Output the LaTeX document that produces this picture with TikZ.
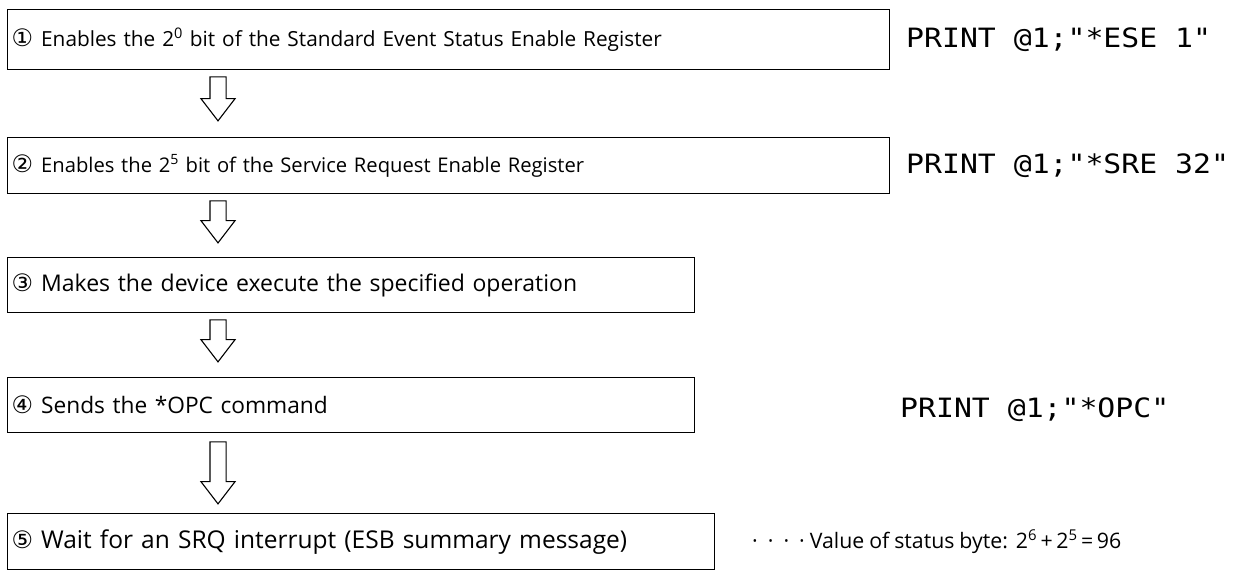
\documentclass[tikz,border=0pt]{standalone}
\usepackage{fontspec}
\setmainfont{Open Sans}
\newfontfamily\circfont{DejaVu Sans}
\newfontfamily\codefont[FakeStretch=1.12]{DejaVu Sans Mono}
\usetikzlibrary{shapes.arrows, positioning, calc}

% circled step number in front of a box text
\newcommand{\stepno}[1]{{\circfont\fontsize{24}{22}\selectfont #1}\hspace{8pt}}
\newcommand{\upsc}[1]{\textsuperscript{#1}}
\newcommand{\boxfont}[1]{\fontsize{#1}{22}\selectfont\spaceskip=0.23em\relax}

\tikzset{
  stepbox/.style={draw, line width=1.3pt, anchor=north west, inner xsep=4pt,
    inner ysep=0pt, align=left, font=\boxfont{#1}},
  stepbox/.default=20,
  downarrow/.style={draw, line width=1.1pt, single arrow, rotate=-90, anchor=tail,
    inner xsep=0pt, inner ysep=7.5pt, single arrow head extend=9pt,
    single arrow tip angle=75, single arrow head indent=0pt},
  codetext/.style={anchor=west, inner sep=0pt, font=\codefont\fontsize{26.6}{30}\selectfont},
  notetext/.style={anchor=west, inner sep=0pt, font=\boxfont{21.3}}
}

\begin{document}
\begin{tikzpicture}[x=1pt, y=-1pt]
  \useasboundingbox (0,0) rectangle (1235,587);
  % Boxes of the five steps:
  \node[stepbox=20.8, text width=874pt, minimum height=60pt] (b1) at (7,9)
    {\stepno{①}Enables the 2\upsc{0} bit of the Standard Event Status Enable Register};
  \node[stepbox=20.2, text width=874pt, minimum height=56pt] (b2) at (7,137)
    {\stepno{②}Enables the 2\upsc{5} bit of the Service Request Enable Register};
  \node[stepbox=23, text width=679pt, minimum height=55pt] (b3) at (7,257)
    {\stepno{③}Makes the device execute the specified operation};
  \node[stepbox=22.7, text width=679pt, minimum height=55pt] (b4) at (7,377)
    {\stepno{④}Sends the *OPC command};
  \node[stepbox=24.5, text width=699pt, minimum height=56pt] (b5) at (7,513)
    {\stepno{⑤}Wait for an SRQ interrupt (ESB summary message)};
  % Hollow arrows between the boxes:
  \coordinate (axis) at (218,0);
  \node[downarrow, minimum height=44pt] (a1) at ($(b1.south -| axis)+(0,6)$) {};
  \node[downarrow, minimum height=42pt] (a2) at ($(b2.south -| axis)+(0,6)$) {};
  \node[downarrow, minimum height=42pt] (a3) at ($(b3.south -| axis)+(0,6)$) {};
  \node[downarrow, minimum height=62pt] (a4) at ($(b4.south -| axis)+(0,8)$) {};
  % Program lines on the right:
  \node[codetext] (c1) at ($(b1.west -| 906,0)+(0,0)$) {PRINT @1;"*ESE 1"};
  \node[codetext] (c2) at ($(b2.west -| 906,0)+(0,0)$) {PRINT @1;"*SRE 32"};
  \node[codetext] (c4) at ($(b4.west -| 900,0)+(0,5)$) {PRINT @1;"*OPC"};
  \node[notetext] (n5) at ($(b5.west -| 752,0)+(0,0)$)
    {·\hspace{10pt}·\hspace{10pt}·\hspace{10pt}·\hspace{5pt}Value of status byte:\hspace{8pt}2\upsc{6}\,+\,2\upsc{5}\,=\,96};
\end{tikzpicture}
\end{document}
